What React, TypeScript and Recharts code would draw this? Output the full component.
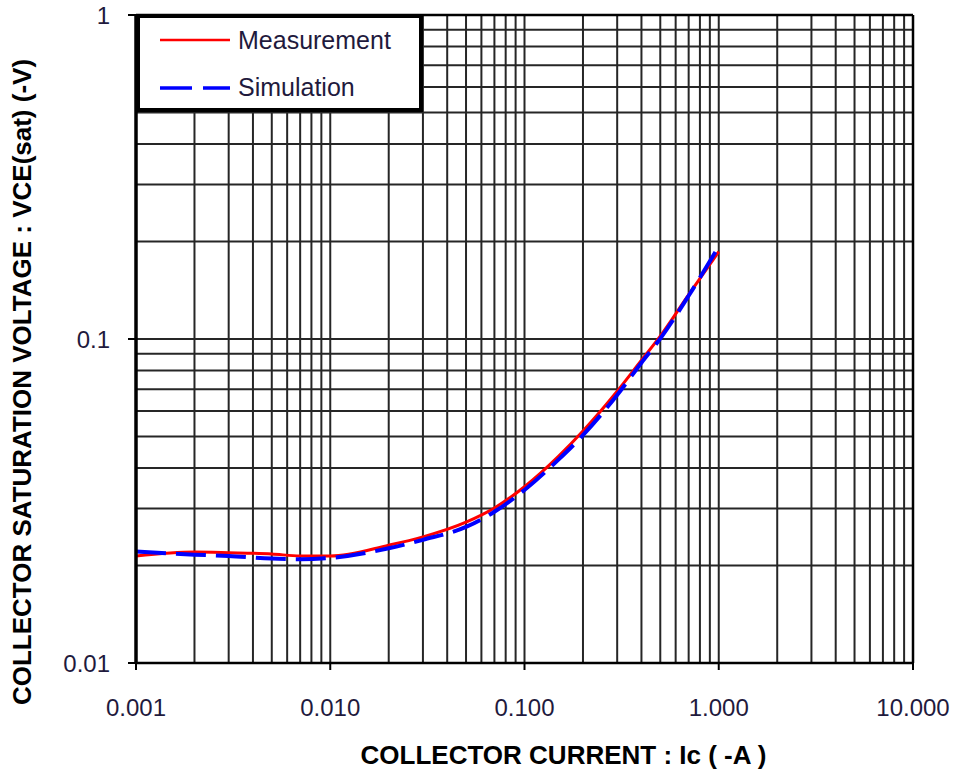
import {
  LineChart,
  Line,
  XAxis,
  YAxis,
  ReferenceLine,
  Legend,
} from 'recharts';

// collector current Ic (-A)
const currents = [0.001, 0.002, 0.003, 0.005, 0.007, 0.01, 0.02, 0.03, 0.05, 0.07, 0.1, 0.15, 0.2, 0.3, 0.4, 0.5, 0.7, 1];
// VCE(sat) (-V)
const measurement = [0.0214, 0.022, 0.0219, 0.0217, 0.0214, 0.0214, 0.0231, 0.0245, 0.0272, 0.0301, 0.035, 0.0435, 0.052, 0.069, 0.086, 0.102, 0.137, 0.186];
const simulation = [0.0221, 0.0216, 0.0214, 0.021, 0.0209, 0.0211, 0.0226, 0.024, 0.0263, 0.0293, 0.0342, 0.0425, 0.0505, 0.0672, 0.0845, 0.1003, 0.136, 0.193];

const xDecades = [0.001, 0.01, 0.1, 1, 10];
const yDecades = [0.01, 0.1, 1];
const minorSteps = [1, 2, 3, 4, 5, 6, 7, 8, 9];

const data = currents.map((ic, i) => ({
  ic,
  measurement: measurement[i],
  simulation: simulation[i],
}));

// grid values: every 1..9 step inside each decade
const gridFrom = (decades: number[]) =>
  decades.slice(0, -1).flatMap((d) => minorSteps.map((m) => +(d * m).toPrecision(3)));
const xGrid = gridFrom(xDecades).filter((v) => v !== 0.001);
const yGrid = gridFrom(yDecades).filter((v) => v !== 0.01);

const TICK_COLOR = '#1f1a3d';
const FONT = 'Liberation Sans, Arial, sans-serif';

const LegendBox = () => (
  <svg width={288} height={99} style={{ display: 'block' }}>
    <rect x={2} y={2} width={283} height={94} fill="#fff" stroke="#000" strokeWidth={4} />
    <line x1={24} x2={94} y1={26} y2={26} stroke="#ff0000" strokeWidth={2.5} />
    <text x={102} y={35} fontSize={25} fontFamily={FONT} fill={TICK_COLOR}>
      Measurement
    </text>
    <line x1={24} x2={94} y1={74} y2={74} stroke="#0000ff" strokeWidth={3.5} strokeDasharray="32 11" />
    <text x={102} y={82} fontSize={25} fontFamily={FONT} fill={TICK_COLOR}>
      Simulation
    </text>
  </svg>
);

export default function App() {
  return (
    <div style={{ position: 'absolute', left: 0, top: 0, background: '#fff' }}>
      <LineChart
        width={957}
        height={772}
        data={data}
        margin={{ top: 15, right: 44, left: 0, bottom: 0 }}
      >
        {xGrid.map((v) => (
          <ReferenceLine key={`x${v}`} x={v} stroke="#262626" strokeWidth={2} />
        ))}
        {yGrid.map((v) => (
          <ReferenceLine key={`y${v}`} y={v} stroke="#262626" strokeWidth={2} />
        ))}
        <XAxis
          dataKey="ic"
          type="number"
          scale="log"
          domain={[0.001, 10]}
          allowDataOverflow
          ticks={xDecades}
          tickFormatter={(v: number) => v.toFixed(3)}
          height={109}
          tickSize={7}
          tickMargin={29}
          axisLine={{ stroke: '#000', strokeWidth: 2.5 }}
          tickLine={{ stroke: '#000', strokeWidth: 2 }}
          tick={{ fill: TICK_COLOR, fontSize: 24, fontFamily: FONT }}
          label={({ viewBox }: any) => (
            <text
              x={viewBox.x + viewBox.width / 2 + 39}
              y={viewBox.y + viewBox.height - 8}
              textAnchor="middle"
              fontSize={26}
              fontWeight="bold"
              fontFamily={FONT}
              fill="#000"
            >
              COLLECTOR CURRENT : Ic ( -A )
            </text>
          )}
        />
        <YAxis
          type="number"
          scale="log"
          domain={[0.01, 1]}
          allowDataOverflow
          ticks={yDecades}
          tickFormatter={(v: number) => String(v)}
          width={136}
          tickSize={8}
          tickMargin={18}
          axisLine={{ stroke: '#000', strokeWidth: 3.5 }}
          tickLine={{ stroke: '#000', strokeWidth: 2 }}
          tick={{ fill: TICK_COLOR, fontSize: 24, fontFamily: FONT }}
          label={({ viewBox }: any) => {
            const cx = 22;
            const cy = viewBox.y + viewBox.height / 2 + 43;
            return (
              <text
                x={cx}
                y={cy}
                transform={`rotate(-90 ${cx} ${cy})`}
                textAnchor="middle"
                dominantBaseline="central"
                fontSize={26}
                fontWeight="bold"
                fontFamily={FONT}
                fill="#000"
              >
                COLLECTOR SATURATION VOLTAGE : VCE(sat)  (-V)
              </text>
            );
          }}
        />
        <ReferenceLine y={1} stroke="#000" strokeWidth={2.5} />
        <ReferenceLine x={10} stroke="#000" strokeWidth={2.5} />
        <Line
          type="monotone"
          dataKey="measurement"
          stroke="#ff0000"
          strokeWidth={3}
          dot={false}
          isAnimationActive={false}
        />
        <Line
          type="monotone"
          dataKey="simulation"
          stroke="#0000ff"
          strokeWidth={4}
          strokeDasharray="30 10"
          dot={false}
          isAnimationActive={false}
        />
        <Legend
          layout="horizontal"
          verticalAlign="middle"
          align="center"
          content={() => <LegendBox />}
          wrapperStyle={{ left: 136, top: 14, width: 288, height: 99 }}
        />
      </LineChart>
    </div>
  );
}
